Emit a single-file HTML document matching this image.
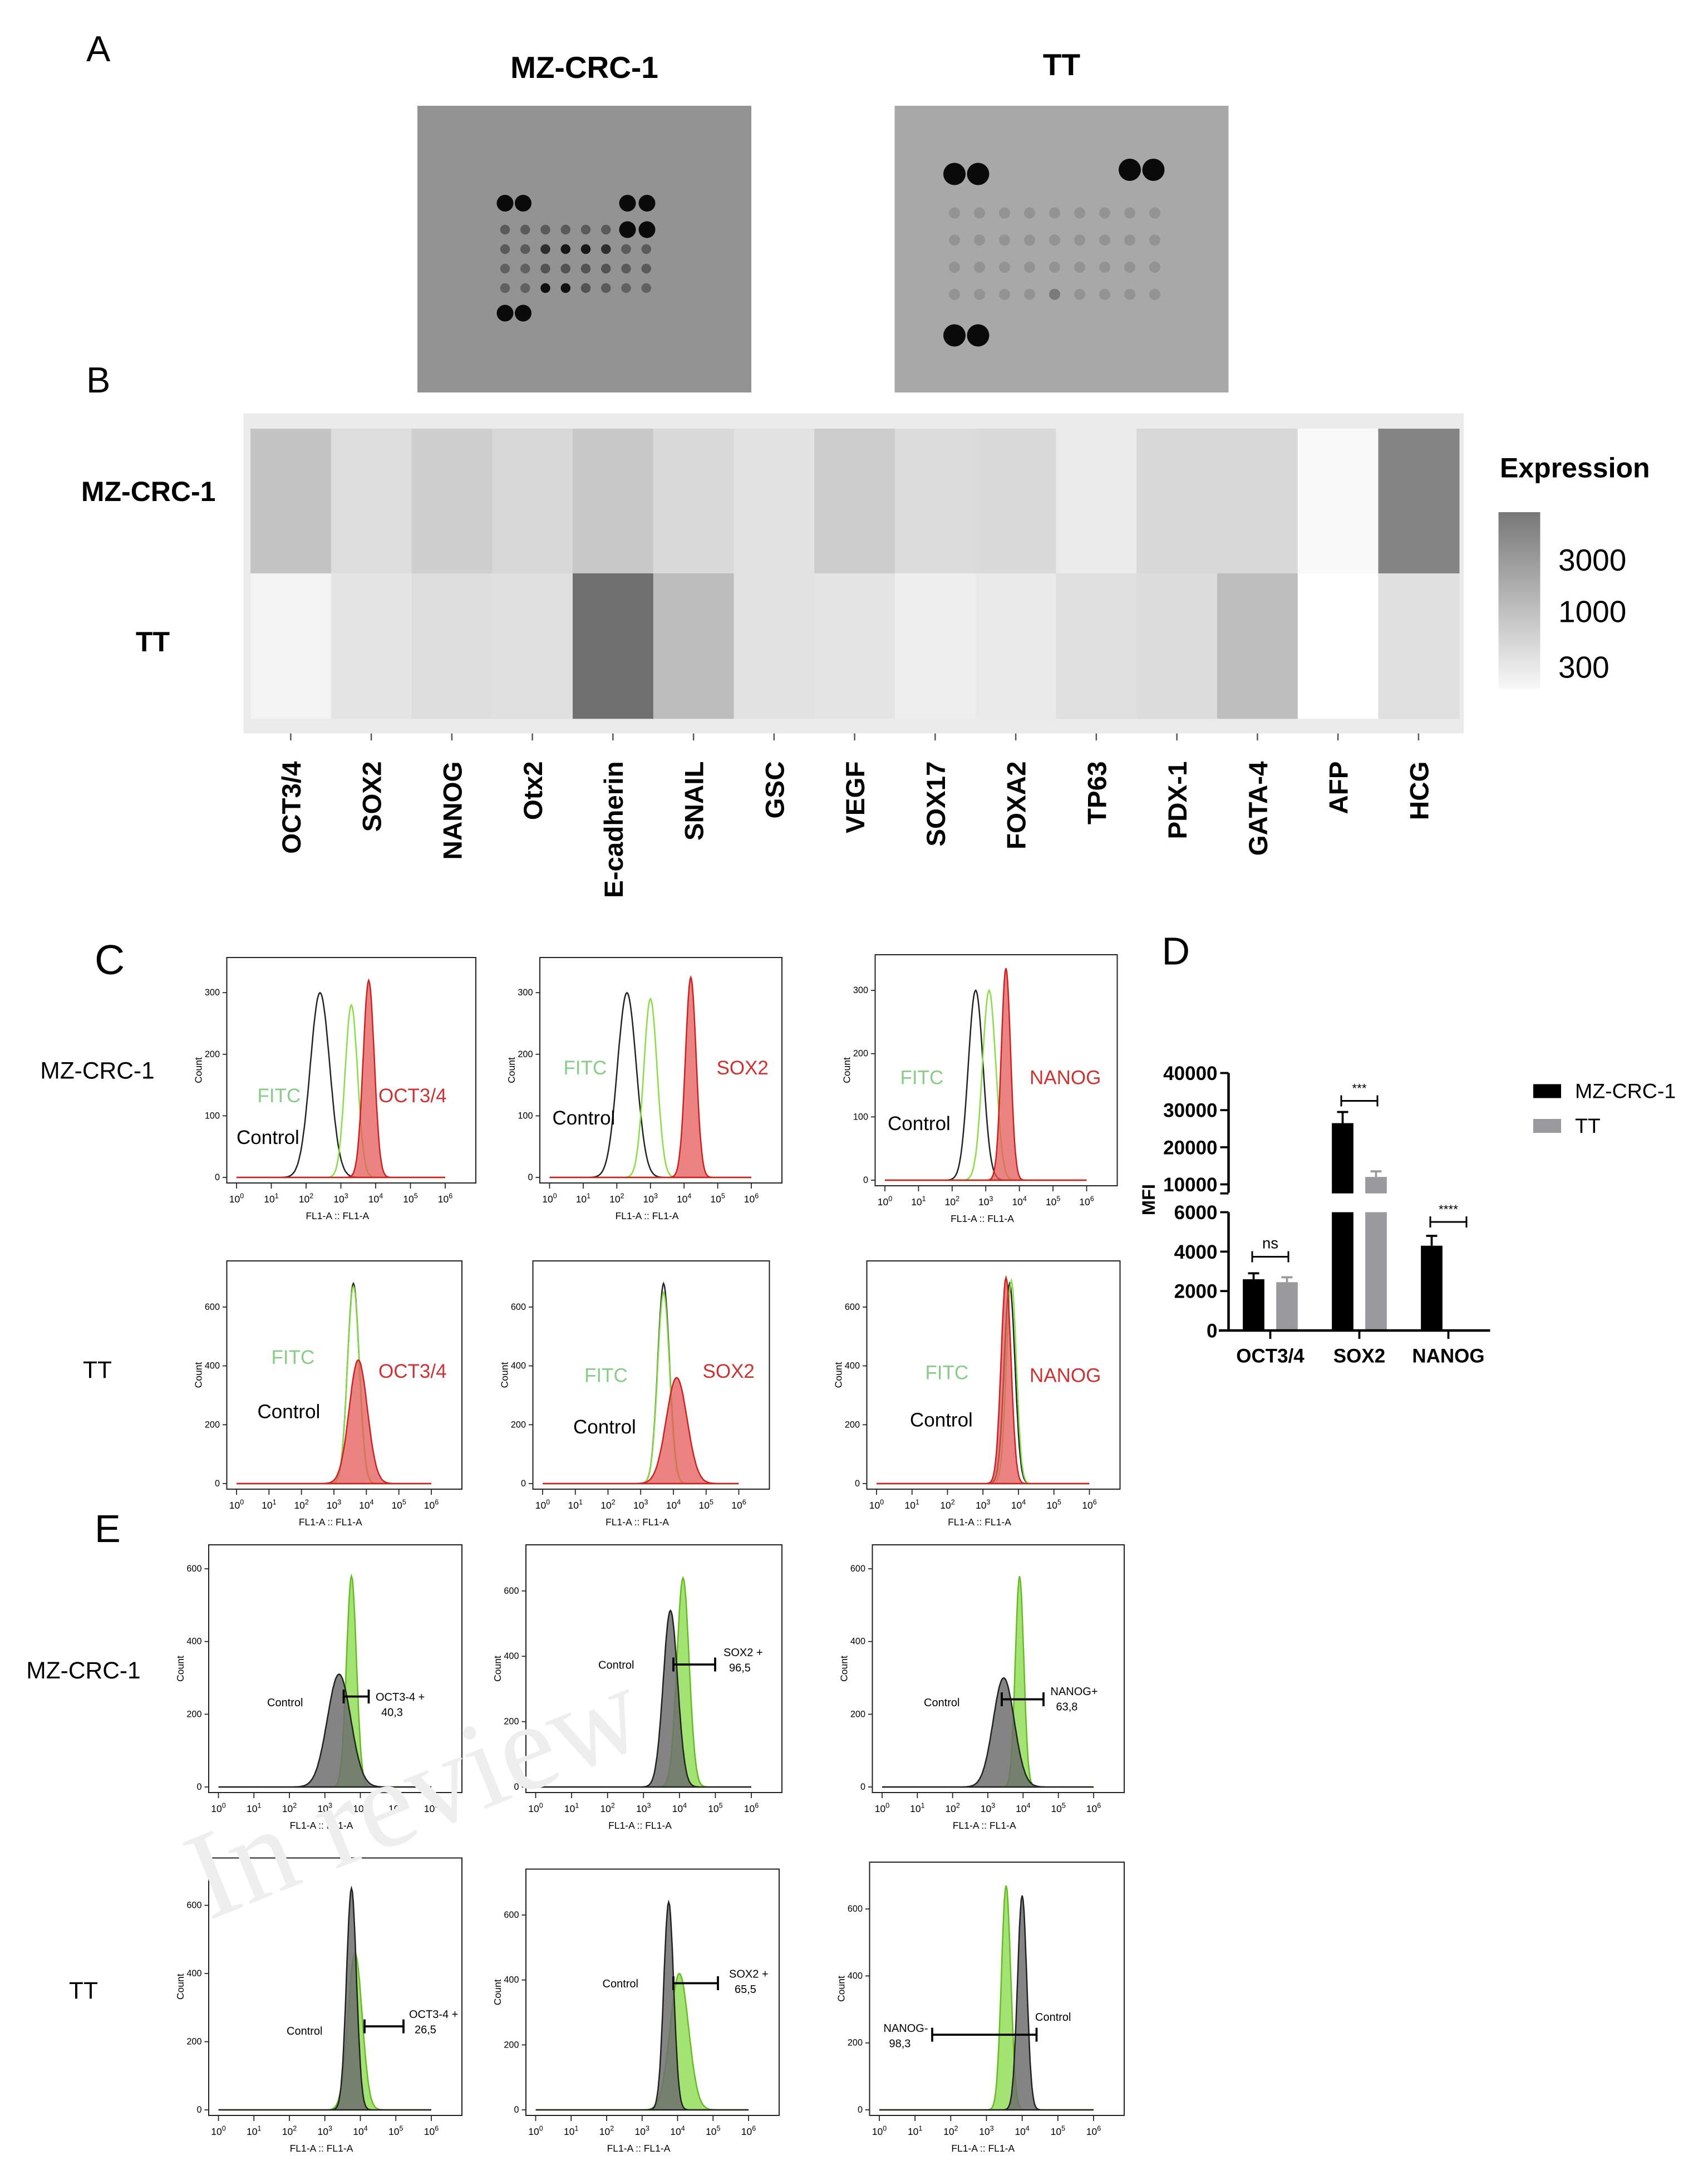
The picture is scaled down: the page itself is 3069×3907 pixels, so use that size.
<!DOCTYPE html>
<html><head><meta charset="utf-8"><style>
html,body{margin:0;padding:0;background:#fff}
svg{display:block;font-family:"Liberation Sans",Arial,sans-serif}
</style></head><body>
<svg id="fig" width="3069" height="3907" viewBox="0 0 1227.6 1562.8" xmlns="http://www.w3.org/2000/svg">
<rect width="1227.6" height="1562.8" fill="#fff"/>
<text x="62" y="44" font-size="26">A</text>
<text x="62" y="282" font-size="26">B</text>
<text x="68" y="700" font-size="30">C</text>
<text x="835" y="693" font-size="28">D</text>
<text x="68" y="1108" font-size="28">E</text>
<text x="420" y="56" font-size="22" font-weight="bold" text-anchor="middle">MZ-CRC-1</text>
<text x="763" y="54" font-size="22" font-weight="bold" text-anchor="middle">TT</text>
<g id="blots"></g>
<g id="heat"></g>
<g id="flow"></g>
<g id="bars"></g>
<text x="150" y="1380" font-size="90" font-family="Liberation Serif" fill="#eee" transform="rotate(-22 150 1380)">In review</text>
</svg>
<script>
const NS="http://www.w3.org/2000/svg";
function mk(tag,attrs,parent,txt){const e=document.createElementNS(NS,tag);for(const k in attrs)e.setAttribute(k,attrs[k]);if(txt!==undefined)e.textContent=txt;parent.appendChild(e);return e;}

/* ---------- Panel A blots ---------- */
const blots=document.getElementById('blots');
const blotA=mk('rect',{x:300,y:76,width:240,height:206,fill:'#939393'},blots);


const blotB=mk('rect',{x:643,y:76,width:240,height:206,fill:'#a8a8a8'},blots);


const bigA=[[363,146],[376,146],[451,146],[465,146],[451,165],[465,165],[363,225],[376,225]];
bigA.forEach(p=>{const c=mk('circle',{cx:p[0],cy:p[1],r:6,fill:'#0a0a0a'},blots);});
const smallAint=[[0.6,0.6,0.6,0.6,0.6,0.6,0.5,0.5],[0.6,0.6,0.3,0.15,0.15,0.3,0.6,0.6],[0.65,0.65,0.55,0.55,0.55,0.55,0.6,0.6],[0.65,0.65,0.1,0.1,0.55,0.6,0.65,0.65]];
smallAint.forEach((row,ri)=>row.forEach((v,ci)=>{const x=363+ci*14.5,y=165+ri*14;if(ri==0&&ci>5)return;const c=mk('circle',{cx:x,cy:y,r:3.5,fill:`rgb(${v*150|0},${v*150|0},${v*150|0})`},blots);}));
const bigB=[[686,125],[703,125],[812,122],[829,122],[686,241],[703,241]];
bigB.forEach(p=>{const c=mk('circle',{cx:p[0],cy:p[1],r:8,fill:'#0a0a0a'},blots);});
for(let r=0;r<4;r++)for(let c=0;c<9;c++){const x=686+c*18,y=153+r*19.5;const col=(r==3&&c==4)?'#7a7a7a':'#939393';const e=mk('circle',{cx:x,cy:y,r:4,fill:col},blots);}

/* ---------- Panel B heatmap ---------- */
const genes=["OCT3/4","SOX2","NANOG","Otx2","E-cadherin","SNAIL","GSC","VEGF","SOX17","FOXA2","TP63","PDX-1","GATA-4","AFP","HCG"];
const rowsB=["MZ-CRC-1","TT"];
const exprMZ=[750,450,600,500,700,480,400,620,460,480,330,500,500,250,2900];
const exprTT=[280,380,450,420,4500,900,400,380,310,340,420,460,850,200,420];
const heat=document.getElementById('heat');
const hb=mk('rect',{x:175,y:297,width:877,height:230,fill:'#ebebeb'},heat);

const hx0=180,cw=57.9,hy=[308,412],ch=104;
function grayOf(v){let g=240-(Math.log10(v)-Math.log10(300))*110;g=Math.max(110,Math.min(255,g));g=Math.round(g);return `rgb(${g},${g},${g})`;}
[exprMZ,exprTT].forEach((arr,ri)=>arr.forEach((v,ci)=>{const r=mk('rect',{x:hx0+ci*cw,y:hy[ri],width:cw+0.5,height:ch+0.5,fill:grayOf(v)},heat);}));
rowsB.forEach((n,i)=>{const t=mk('text',{x:i==0?155:122,y:hy[i]+ch/2+(i==0?0:4),'font-size':20,'font-weight':'bold','text-anchor':'end'},heat,n);});
genes.forEach((g,i)=>{const x=hx0+i*cw+cw/2;mk('line',{x1:x,x2:x,y1:527,y2:532,stroke:'#555'},heat);const t=mk('text',{x:0,y:0,'font-size':19,'font-weight':'bold','text-anchor':'end',transform:`translate(${x+7},547) rotate(-90)`},heat,g);});
const lg=mk('linearGradient',{id:'cb',x1:0,y1:0,x2:0,y2:1},heat);mk('stop',{offset:0,'stop-color':'#787878'},lg);mk('stop',{offset:1,'stop-color':'#f8f8f8'},lg);
const cb=mk('rect',{x:1077,y:368,width:30,height:127,fill:'url(#cb)'},heat);
const ct=mk('text',{x:1078,y:343,'font-size':20,'font-weight':'bold'},heat,'Expression');
const cbTicks=["3000","1000","300"],cbY=[410,447,487];
cbTicks.forEach((t,i)=>{const e=mk('text',{x:1120,y:cbY[i],'font-size':22},heat,t);});

/* ---------- Panels C & E flow histograms ---------- */
const flow=document.getElementById('flow');
const flowBoxes=[
 {b:[163,688,342,850],ymax:330,yt:[0,100,200,300],hist:[[2.4,300,0.28,'ctrl'],[3.3,280,0.18,'fitc'],[3.8,320,0.16,'red']],lab:[['FITC',185,792,'#8c8'],['OCT3/4',272,792,'#c33'],['Control',170,822,'#000']]},
 {b:[388,688,562,850],ymax:330,yt:[0,100,200,300],hist:[[2.3,300,0.28,'ctrl'],[3.0,290,0.2,'fitc'],[4.2,325,0.16,'red']],lab:[['FITC',405,772,'#8c8'],['SOX2',515,772,'#c33'],['Control',397,808,'#000']]},
 {b:[629,686,803,852],ymax:330,yt:[0,100,200,300],hist:[[2.7,300,0.22,'ctrl'],[3.1,300,0.2,'fitc'],[3.6,335,0.14,'red']],lab:[['FITC',647,779,'#8c8'],['NANOG',740,779,'#c33'],['Control',638,812,'#000']]},
 {b:[163,906,332,1070],ymax:700,yt:[0,200,400,600],hist:[[3.6,680,0.18,'ctrl'],[3.6,670,0.18,'fitc'],[3.75,420,0.28,'red']],lab:[['FITC',195,980,'#8c8'],['OCT3/4',272,990,'#c33'],['Control',185,1019,'#000']]},
 {b:[383,906,553,1070],ymax:700,yt:[0,200,400,600],hist:[[3.7,680,0.18,'ctrl'],[3.7,650,0.18,'fitc'],[4.1,360,0.32,'red']],lab:[['FITC',420,993,'#8c8'],['SOX2',505,990,'#c33'],['Control',412,1030,'#000']]},
 {b:[623,906,805,1070],ymax:700,yt:[0,200,400,600],hist:[[3.75,680,0.15,'ctrl'],[3.8,690,0.14,'fitc'],[3.65,700,0.14,'red']],lab:[['FITC',665,991,'#8c8'],['NANOG',740,993,'#c33'],['Control',654,1025,'#000']]},
 {b:[150,1110,332,1288],ymax:620,yt:[0,200,400,600],hist:[[3.75,580,0.14,'green'],[3.4,310,0.33,'gray']],lab:[['Control',192,1226,'#000']],gate:[247,265,1219,'OCT3-4 +','40,3',270,1222]},
 {b:[378,1110,562,1288],ymax:690,yt:[0,200,400,600],hist:[[4.1,640,0.17,'green'],[3.75,540,0.2,'gray']],lab:[['Control',430,1199,'#000']],gate:[484,514,1196,'SOX2 +','96,5',520,1190]},
 {b:[627,1110,808,1288],ymax:620,yt:[0,200,400,600],hist:[[3.9,580,0.12,'green'],[3.45,300,0.3,'gray']],lab:[['Control',664,1226,'#000']],gate:[720,750,1221,'NANOG+','63,8',755,1218]},
 {b:[150,1335,332,1520],ymax:690,yt:[0,200,400,600],hist:[[3.85,460,0.2,'green'],[3.75,650,0.14,'gray']],lab:[['Control',206,1462,'#000']],gate:[262,290,1456,'OCT3-4 +','26,5',294,1450]},
 {b:[378,1343,560,1520],ymax:690,yt:[0,200,400,600],hist:[[4.05,420,0.26,'green'],[3.75,640,0.14,'gray']],lab:[['Control',433,1428,'#000']],gate:[484,516,1425,'SOX2 +','65,5',524,1421]},
 {b:[625,1338,808,1520],ymax:690,yt:[0,200,400,600],hist:[[3.55,670,0.13,'green'],[4.0,640,0.13,'gray']],lab:[['Control',744,1452,'#000']],gate:[670,745,1462,'NANOG-','98,3',635,1460]}
];
const styles={ctrl:['none','#222'],fitc:['none','#8d4'],red:['rgba(230,90,90,0.75)','#c22'],green:['rgba(140,220,80,0.8)','#6b2'],gray:['rgba(110,110,110,0.85)','#222']};
const rowLabels=[['MZ-CRC-1',70,775],['TT',70,990],['MZ-CRC-1',60,1206],['TT',60,1436]];
rowLabels.forEach(r=>{const t=mk('text',{x:r[1],y:r[2],'font-size':17,'text-anchor':'middle'},flow,r[0]);});
flowBoxes.forEach((fb,k)=>{
 const [x0,y0,x1,y1]=fb.b;
 const g=mk('g',{},flow);
 mk('rect',{x:x0,y:y0,width:x1-x0,height:y1-y0,fill:'#fff',stroke:'#222','stroke-width':0.8},g);
 const px0=x0+7,px1=x1-22,py0=y1-4,py1=y0+12;
 const xs=v=>px0+(v/6)*(px1-px0), ys=c=>py0-(c/fb.ymax)*(py0-py1);
 fb.hist.forEach(h=>{
  let d='M'+xs(0)+','+ys(0);
  for(let i=0;i<=240;i++){const lv=i/40;const c=h[1]*Math.exp(-Math.pow((lv-h[0])/h[2],2)/2);d+=' L'+xs(lv).toFixed(1)+','+ys(c).toFixed(1);}
  d+=' L'+xs(6)+','+ys(0)+'Z';
  const s=styles[h[3]];const p=mk('path',{d:d,fill:s[0],stroke:s[1],'stroke-width':1},g);
  
 });
 for(let e=0;e<=6;e++){const x=xs(e);mk('line',{x1:x,x2:x,y1:y1,y2:y1+4,stroke:'#222','stroke-width':0.7},g);const t=mk('text',{x:x,y:y1+14,'font-size':7,'text-anchor':'middle'},g,'10');mk('tspan',{'font-size':5,dy:-3},t,String(e));}
 fb.yt.forEach(v=>{const y=ys(v);mk('line',{x1:x0-3,x2:x0,y1:y,y2:y,stroke:'#222','stroke-width':0.7},g);mk('text',{x:x0-5,y:y+2,'font-size':6.5,'text-anchor':'end'},g,String(v));});
 mk('text',{x:(x0+x1)/2-10,y:y1+26,'font-size':7,'text-anchor':'middle'},g,'FL1-A :: FL1-A');
 mk('text',{x:0,y:0,'font-size':7,'text-anchor':'middle',transform:`translate(${x0-18},${(y0+y1)/2}) rotate(-90)`},g,'Count');
 fb.lab.forEach(l=>{const t=mk('text',{x:l[1],y:l[2],'font-size':k<6?14:8,fill:l[3]},g,l[0]);});
 if(fb.gate){const q=fb.gate;mk('line',{x1:q[0],x2:q[1],y1:q[2],y2:q[2],stroke:'#000','stroke-width':1.5},g);mk('line',{x1:q[0],x2:q[0],y1:q[2]-5,y2:q[2]+5,stroke:'#000','stroke-width':1.5},g);mk('line',{x1:q[1],x2:q[1],y1:q[2]-5,y2:q[2]+5,stroke:'#000','stroke-width':1.5},g);
  const t1=mk('text',{x:q[5],y:q[6],'font-size':8},g,q[3]);mk('text',{x:q[5]+4,y:q[6]+11,'font-size':8},g,q[4]);}
});

/* ---------- Panel D bar chart ---------- */
const cats=["OCT3/4","SOX2","NANOG"];
const mfiMZ=[2600,26500,4300];
const mfiTT=[2450,12000,null];
const errMZ=[300,3000,500];
const errTT=[250,1500,null];
const lowTicks=[0,2000,4000,6000];
const highTicks=[10000,20000,30000,40000];
const sig=["ns","***","****"];
const bars=document.getElementById('bars');
const ax=883, breakY=857.5;
const yLow=v=>956-(v/6000)*85;
const yHigh=v=>851-((v-10000)/30000)*80;
const yv=v=>v<=6000?yLow(v):yHigh(v);
const catX=[913,977,1041];
const bw=15.5, off=12;
function bar(xc,v,e,col){if(v==null)return;
 if(v>6000){const r1=mk('rect',{x:xc-bw/2,y:yLow(6000),width:bw,height:yLow(0)-yLow(6000),fill:col},bars);
  const r2=mk('rect',{x:xc-bw/2,y:yHigh(v),width:bw,height:breakY-yHigh(v),fill:col},bars);}
 else{const r=mk('rect',{x:xc-bw/2,y:yLow(v),width:bw,height:yLow(0)-yLow(v),fill:col},bars);}
 const yt=yv(v+e);mk('line',{x1:xc,x2:xc,y1:yv(v),y2:yt,stroke:col,'stroke-width':1.5},bars);mk('line',{x1:xc-4,x2:xc+4,y1:yt,y2:yt,stroke:col,'stroke-width':1.5},bars);}
const sigY=[903,791,878];
cats.forEach((c,i)=>{const cx=catX[i];bar(cx-off,mfiMZ[i],errMZ[i],'#000');bar(cx+off,mfiTT[i],errTT[i],'#9a9a9e');
 mk('line',{x1:cx,x2:cx,y1:956,y2:962,stroke:'#000','stroke-width':1.5},bars);
 const t=mk('text',{x:cx,y:979,'font-size':14,'font-weight':'bold','text-anchor':'middle'},bars,c);
 const by=sigY[i];
 const bx0=cx-off-1,bx1=cx+off+1;mk('line',{x1:bx0,x2:bx1,y1:by,y2:by,stroke:'#000','stroke-width':1.2},bars);mk('line',{x1:bx0,x2:bx0,y1:by-4,y2:by+4,stroke:'#000','stroke-width':1.2},bars);mk('line',{x1:bx1,x2:bx1,y1:by-4,y2:by+4,stroke:'#000','stroke-width':1.2},bars);
 const s=mk('text',{x:(bx0+bx1)/2,y:by-6,'font-size':i==0?11:9,'text-anchor':'middle'},bars,sig[i]);
});
mk('line',{x1:ax,x2:ax,y1:956,y2:871,stroke:'#000','stroke-width':1.8},bars);
mk('line',{x1:ax,x2:ax,y1:857,y2:771,stroke:'#000','stroke-width':1.8},bars);
mk('line',{x1:876,x2:1071,y1:956,y2:956,stroke:'#000','stroke-width':1.8},bars);
lowTicks.forEach(v=>{mk('line',{x1:ax-6,x2:ax,y1:yLow(v),y2:yLow(v),stroke:'#000','stroke-width':1.5},bars);const t=mk('text',{x:ax-8,y:yLow(v)+5,'font-size':14,'font-weight':'bold','text-anchor':'end'},bars,String(v));});
highTicks.forEach(v=>{mk('line',{x1:ax-6,x2:ax,y1:yHigh(v),y2:yHigh(v),stroke:'#000','stroke-width':1.5},bars);const t=mk('text',{x:ax-8,y:yHigh(v)+5,'font-size':14,'font-weight':'bold','text-anchor':'end'},bars,String(v));});
mk('line',{x1:ax-6,x2:ax,y1:breakY,y2:breakY,stroke:'#000','stroke-width':1.5},bars);
const yl=mk('text',{x:0,y:0,'font-size':13,'font-weight':'bold','text-anchor':'middle',transform:'translate(830,862) rotate(-90)'},bars,'MFI');
const legs=[['MZ-CRC-1','#000',784],['TT','#9a9a9e',809]];
legs.forEach(l=>{const r=mk('rect',{x:1102,y:l[2]-5,width:20,height:10,fill:l[1]},bars);const t=mk('text',{x:1132,y:l[2]+5,'font-size':15},bars,l[0]);});
</script>
</body></html>
